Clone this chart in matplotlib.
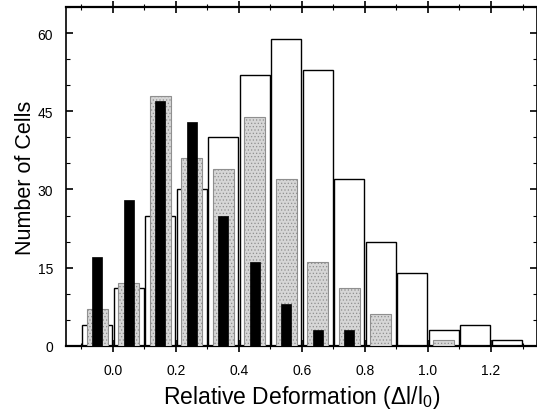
import matplotlib
matplotlib.use("Agg")
import matplotlib.pyplot as plt
from matplotlib.ticker import MultipleLocator
import numpy as np

plt.rcParams['font.family'] = ['Liberation Sans', 'DejaVu Sans']
plt.rcParams['mathtext.fontset'] = 'custom'
plt.rcParams['mathtext.rm'] = 'Liberation Sans'
plt.rcParams['hatch.linewidth'] = 0.5

bin_centers = [-0.05, 0.05, 0.15, 0.25, 0.35, 0.45, 0.55, 0.65, 0.75, 0.85, 0.95, 1.05, 1.15, 1.25]
white_counts = [4, 11, 25, 30, 40, 52, 59, 53, 32, 20, 14, 3, 4, 1]
gray_counts = [7, 12, 48, 36, 34, 44, 32, 16, 11, 6, 0, 1, 0, 0]
black_counts = [17, 28, 47, 43, 25, 16, 8, 3, 3, 0, 0, 0, 0, 0]

x_ticks = [0.0, 0.2, 0.4, 0.6, 0.8, 1.0, 1.2]
y_ticks = [0, 15, 30, 45, 60]

fig = plt.figure(figsize=(5.37, 4.14), dpi=100)
ax = fig.add_axes([0.1223, 0.1626, 0.8777, 0.8174])

ax.bar(bin_centers, white_counts, width=0.095, facecolor='white', edgecolor='black', linewidth=1.0, zorder=2)
ax.bar(bin_centers, gray_counts, width=0.067, facecolor='#d6d6d6', edgecolor='#8f8f8f', hatch='.....', linewidth=0.8, zorder=3)
ax.bar(bin_centers, black_counts, width=0.032, facecolor='black', edgecolor='black', linewidth=0.5, zorder=4)

ax.set_xlim(-0.15, 1.346)
ax.set_ylim(0, 65)
ax.set_xticks(x_ticks)
ax.set_xticklabels([f"{v:.1f}" for v in x_ticks])
ax.set_yticks(y_ticks)
ax.xaxis.set_minor_locator(MultipleLocator(0.1))
ax.yaxis.set_minor_locator(MultipleLocator(5))

ax.tick_params(axis='x', which='both', direction='inout', top=True, labelsize=10, pad=8)
ax.tick_params(axis='x', which='major', length=9, width=1.2)
ax.tick_params(axis='x', which='minor', length=5, width=0.8)
ax.tick_params(axis='y', which='both', direction='in', right=True, labelsize=10, pad=9)
ax.tick_params(axis='y', which='major', length=5, width=1.2)
ax.tick_params(axis='y', which='minor', length=3, width=0.8)

for s in ax.spines.values():
    s.set_linewidth(1.2)
ax.spines['bottom'].set_linewidth(1.6)
ax.spines['top'].set_linewidth(1.6)

ax.set_xlabel(r'Relative Deformation (Δl/l$\mathregular{_0}$)', fontsize=16.5, labelpad=4)
ax.set_ylabel('Number of Cells', fontsize=15.5, labelpad=1)

fig.savefig('out.png', dpi=100)
